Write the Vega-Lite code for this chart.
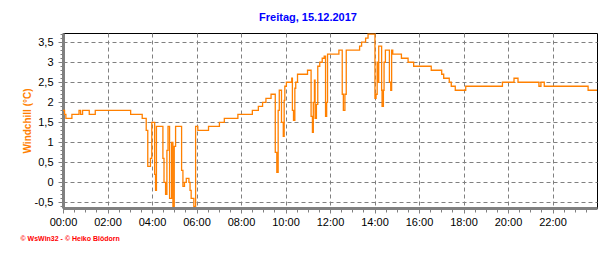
{
  "$schema": "https://vega.github.io/schema/vega-lite/v6.json",
  "width": 534,
  "height": 175,
  "autosize": {"type": "none"},
  "padding": {"left": 63, "top": 33, "right": 19, "bottom": 45},
  "background": "white",
  "title": {"text": "Freitag, 15.12.2017", "color": "#0000ff", "fontSize": 11, "font": "Liberation Sans", "fontWeight": "bold", "offset": 9, "dx": -22},
  "config": {
    "view": {"stroke": "black", "strokeWidth": 1},
    "axis": {"labelFont": "Liberation Sans", "titleFont": "Liberation Sans"}
  },
  "data": {"values": [
    {"t": 0.00, "v": 1.8}, {"t": 0.07, "v": 1.7}, {"t": 0.13, "v": 1.6}, {"t": 0.40, "v": 1.7},
    {"t": 0.72, "v": 1.8}, {"t": 0.79, "v": 1.7}, {"t": 0.88, "v": 1.8}, {"t": 1.18, "v": 1.7},
    {"t": 1.45, "v": 1.8}, {"t": 3.04, "v": 1.7}, {"t": 3.56, "v": 1.6}, {"t": 3.74, "v": 1.3},
    {"t": 3.81, "v": 0.4}, {"t": 3.93, "v": 0.6}, {"t": 3.99, "v": 1.5}, {"t": 4.12, "v": 0.2},
    {"t": 4.16, "v": -0.2}, {"t": 4.20, "v": 1.4}, {"t": 4.49, "v": 0.6}, {"t": 4.54, "v": 0.0},
    {"t": 4.61, "v": -0.3}, {"t": 4.67, "v": 0.8}, {"t": 4.72, "v": 1.4}, {"t": 4.79, "v": -0.4},
    {"t": 4.88, "v": 1.0}, {"t": 4.94, "v": -0.6}, {"t": 5.00, "v": 0.9}, {"t": 5.06, "v": 1.4},
    {"t": 5.33, "v": 0.3}, {"t": 5.39, "v": -0.1}, {"t": 5.46, "v": 0.0}, {"t": 5.54, "v": 0.1},
    {"t": 5.66, "v": 0.0}, {"t": 5.71, "v": -0.2}, {"t": 5.76, "v": -0.4}, {"t": 5.88, "v": -0.6},
    {"t": 5.96, "v": 1.4}, {"t": 6.06, "v": 1.3}, {"t": 6.54, "v": 1.4}, {"t": 7.03, "v": 1.5},
    {"t": 7.25, "v": 1.6}, {"t": 7.86, "v": 1.7}, {"t": 8.51, "v": 1.8}, {"t": 8.78, "v": 1.9},
    {"t": 8.97, "v": 2.0}, {"t": 9.12, "v": 2.1}, {"t": 9.35, "v": 2.2}, {"t": 9.54, "v": 0.75},
    {"t": 9.61, "v": 0.25}, {"t": 9.67, "v": 1.8}, {"t": 9.72, "v": 2.3}, {"t": 9.82, "v": 1.5},
    {"t": 9.90, "v": 1.15}, {"t": 9.94, "v": 2.05}, {"t": 9.97, "v": 2.4}, {"t": 10.04, "v": 2.5},
    {"t": 10.28, "v": 2.6}, {"t": 10.31, "v": 1.8}, {"t": 10.36, "v": 1.55}, {"t": 10.42, "v": 2.35},
    {"t": 10.46, "v": 2.5}, {"t": 10.54, "v": 2.7}, {"t": 10.99, "v": 2.8}, {"t": 11.15, "v": 1.65},
    {"t": 11.21, "v": 1.25}, {"t": 11.25, "v": 2.0}, {"t": 11.30, "v": 2.55}, {"t": 11.33, "v": 1.6},
    {"t": 11.39, "v": 1.95}, {"t": 11.45, "v": 2.9}, {"t": 11.54, "v": 3.0}, {"t": 11.65, "v": 3.1},
    {"t": 11.74, "v": 3.15}, {"t": 11.80, "v": 1.65}, {"t": 11.85, "v": 2.0}, {"t": 11.89, "v": 3.2},
    {"t": 12.40, "v": 3.3}, {"t": 12.55, "v": 2.2}, {"t": 12.60, "v": 1.8}, {"t": 12.67, "v": 2.2},
    {"t": 12.73, "v": 3.3}, {"t": 13.33, "v": 3.4}, {"t": 13.42, "v": 3.5}, {"t": 13.60, "v": 3.6},
    {"t": 13.71, "v": 3.7}, {"t": 14.02, "v": 2.1}, {"t": 14.07, "v": 2.2}, {"t": 14.12, "v": 3.0},
    {"t": 14.16, "v": 2.5}, {"t": 14.19, "v": 3.4}, {"t": 14.32, "v": 2.3}, {"t": 14.34, "v": 1.9},
    {"t": 14.40, "v": 2.3}, {"t": 14.43, "v": 3.0}, {"t": 14.49, "v": 3.3}, {"t": 14.67, "v": 2.5},
    {"t": 14.73, "v": 2.3}, {"t": 14.77, "v": 3.3}, {"t": 14.82, "v": 3.2}, {"t": 15.21, "v": 3.1},
    {"t": 15.51, "v": 3.0}, {"t": 15.76, "v": 2.9}, {"t": 16.55, "v": 2.8}, {"t": 17.02, "v": 2.7},
    {"t": 17.11, "v": 2.6}, {"t": 17.36, "v": 2.5}, {"t": 17.45, "v": 2.4}, {"t": 17.63, "v": 2.3},
    {"t": 18.10, "v": 2.4}, {"t": 19.75, "v": 2.5}, {"t": 20.27, "v": 2.6}, {"t": 20.45, "v": 2.5},
    {"t": 21.39, "v": 2.4}, {"t": 21.48, "v": 2.5}, {"t": 21.63, "v": 2.4}, {"t": 23.60, "v": 2.3},
    {"t": 24.0, "v": 2.3}
  ]},
  "layer": [
    {
      "mark": {"type": "line", "opacity": 0},
      "encoding": {
        "x": {"field": "t", "type": "quantitative", "scale": {"domain": [0, 24], "nice": false},
          "axis": {"orient": "bottom", "values": [0,0.5,1,1.5,2,2.5,3,3.5,4,4.5,5,5.5,6,6.5,7,7.5,8,8.5,9,9.5,10,10.5,11,11.5,12,12.5,13,13.5,14,14.5,15,15.5,16,16.5,17,17.5,18,18.5,19,19.5,20,20.5,21,21.5,22,22.5,23,23.5],
            "labels": false, "domain": false, "grid": false, "ticks": true, "tickSize": 4, "tickColor": "#808080", "tickWidth": 1,
            "title": "© WsWin32 - © Heiko Blödorn", "titleFontSize": 7, "titleColor": "#ff0000", "titleFontWeight": "bold",
            "titleAnchor": "start", "titleAlign": "left", "titleBaseline": "middle", "titleX": -43, "titleY": 30}},
        "y": {"field": "v", "type": "quantitative", "scale": {"domain": [-0.64, 3.73], "nice": false, "zero": false},
          "axis": {"orient": "left", "values": [-0.6,-0.4,-0.3,-0.2,-0.1,0.1,0.2,0.3,0.4,0.6,0.7,0.8,0.9,1.1,1.2,1.3,1.4,1.6,1.7,1.8,1.9,2.1,2.2,2.3,2.4,2.6,2.7,2.8,2.9,3.1,3.2,3.3,3.4,3.6,3.7],
            "labels": false, "domain": false, "grid": false, "ticks": true, "tickSize": 3, "tickColor": "#808080", "tickWidth": 1, "title": null}}
      }
    },
    {
      "mark": {"type": "line", "interpolate": "step-after", "color": "#ff8000", "strokeWidth": 1.3},
      "encoding": {
        "x": {"field": "t", "type": "quantitative", "scale": {"domain": [0, 24], "nice": false},
          "axis": {"orient": "bottom", "values": [0,2,4,6,8,10,12,14,16,18,20,22],
            "labelExpr": "(datum.value < 10 ? '0' : '') + datum.value + ':00'",
            "labelFontSize": 11, "labelColor": "black", "labelPadding": 3, "labelFlush": false,
            "domainColor": "#808080", "domainWidth": 3, "tickColor": "#808080", "tickSize": 5, "tickWidth": 1,
            "grid": true, "gridColor": "#808080", "gridDash": [4, 3], "gridWidth": 1, "title": null}},
        "y": {"field": "v", "type": "quantitative", "scale": {"domain": [-0.64, 3.73], "nice": false, "zero": false},
          "axis": {"orient": "left", "values": [-0.5,0,0.5,1,1.5,2,2.5,3,3.5],
            "labelExpr": "replace(toString(datum.value), '.', ',')",
            "labelFontSize": 11, "labelColor": "black", "labelPadding": 5,
            "domainColor": "#808080", "domainWidth": 3, "tickColor": "#808080", "tickSize": 5, "tickWidth": 1,
            "grid": true, "gridColor": "#808080", "gridDash": [4, 3], "gridWidth": 1,
            "title": "Windchill  (°C)", "titleColor": "#ff8000", "titleFontSize": 10, "titleFontWeight": "bold", "titlePadding": 2}}
      }
    }
  ],
  "resolve": {"axis": {"x": "independent", "y": "independent"}}
}
